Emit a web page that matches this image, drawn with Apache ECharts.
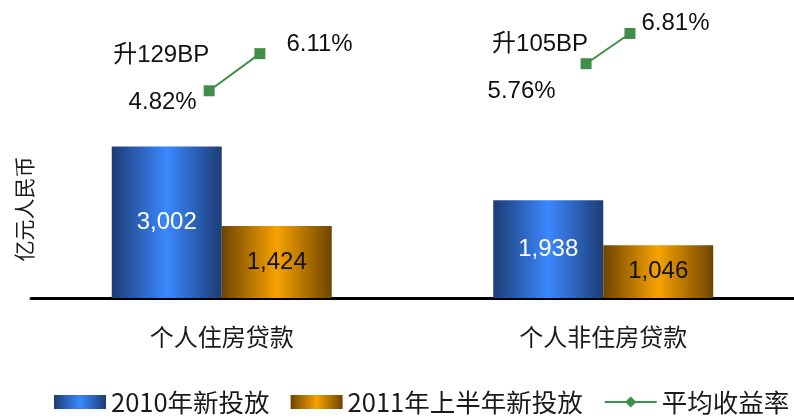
<!DOCTYPE html>
<html>
<head>
<meta charset="utf-8">
<script src="https://cdn.jsdelivr.net/npm/echarts@6/dist/echarts.min.js"></script>
<style>
  html, body { margin: 0; padding: 0; background: #fff; }
  #chart { width: 794px; height: 418px; }
</style>
</head>
<body>
<div id="chart"></div>
<script>
// 数据
const categories = ['个人住房贷款', '个人非住房贷款'];
const loans2010 = [3002, 1938];
const loans2011H1 = [1424, 1046];
const rate2010 = [4.82, 5.76];
const rate2011H1 = [6.11, 6.81];
// 收益率点在横向上的位置（按类目宽度计）
const ratePosX = [[0.467, 0.600], [1.455, 1.570]];

// 标签微调（布局用）
const labelNudge = [
  [[-2, 12], [16, -9]],
  [[-20, 28], [1, -10]]
];
const bpNudge = [[-48, -35], [-46, -19]];

const font = '"Liberation Sans", Arial, "Noto Sans CJK SC", sans-serif';
const cjkFont = '"Noto Sans CJK SC", "Liberation Sans", sans-serif';

function barGradient(edge, mid) {
  return new echarts.graphic.LinearGradient(0, 0, 1, 0, [
    { offset: 0, color: edge },
    { offset: 0.5, color: mid },
    { offset: 1, color: edge }
  ]);
}

const chart = echarts.init(document.getElementById('chart'));

const lineSeries = categories.map((c, i) => ({
  name: '平均收益率',
  type: 'line',
  xAxisIndex: 1,
  yAxisIndex: 1,
  symbol: 'diamond',
  symbolSize: 12,
  clip: false,
  lineStyle: { color: '#3f8f4a', width: 2 },
  itemStyle: { color: '#3f8f4a' },
  data: [
    {
      value: [ratePosX[i][0], rate2010[i]],
      symbol: 'rect',
      symbolSize: 11,
      label: { position: 'left', offset: labelNudge[i][0] }
    },
    {
      value: [ratePosX[i][1], rate2011H1[i]],
      symbol: 'rect',
      symbolSize: 11,
      label: { position: 'right', offset: labelNudge[i][1] }
    }
  ],
  label: {
    show: true,
    fontFamily: font,
    fontSize: 24,
    color: '#111',
    formatter: p => p.value[1].toFixed(2) + '%'
  },
  markPoint: {
    symbol: 'rect',
    symbolSize: 0,
    label: {
      show: true,
      fontFamily: font,
      fontSize: 24,
      color: '#111',
      offset: bpNudge[i],
      formatter: '升' + Math.round((rate2011H1[i] - rate2010[i]) * 100) + 'BP'
    },
    data: [{ coord: [ratePosX[i][0], rate2010[i]] }]
  }
}));

const option = {
  animation: false,
  backgroundColor: '#fff',
  legend: {
    left: 54,
    top: 383,
    padding: 0,
    itemWidth: 52,
    itemHeight: 14,
    itemGap: 21,
    textStyle: {
      fontFamily: cjkFont,
      fontSize: 25.5,
      lineHeight: 24,
      color: '#1a1a1a',
      padding: [14, 0, 0, 0]
    },
    data: [
      { name: '2010年新投放', icon: 'rect' },
      { name: '2011年上半年新投放', icon: 'rect' },
      { name: '平均收益率' }
    ]
  },
  grid: [
    { left: 31, right: 0, top: 96, bottom: 120 },
    { left: 31, right: 0, top: 30, height: 70 }
  ],
  xAxis: [
    {
      type: 'category',
      data: categories,
      axisLine: { lineStyle: { color: '#000', width: 3 } },
      axisTick: { show: false },
      axisLabel: {
        fontFamily: cjkFont,
        fontSize: 24,
        color: '#1a1a1a',
        margin: 27
      }
    },
    { type: 'value', gridIndex: 1, min: 0, max: 2, show: false }
  ],
  yAxis: [
    {
      type: 'value',
      min: 0,
      max: 4000,
      axisLine: { show: false },
      axisTick: { show: false },
      axisLabel: { show: false },
      splitLine: { show: false },
      name: '亿元人民币',
      nameLocation: 'middle',
      nameRotate: 90,
      nameGap: -4,
      nameTextStyle: {
        fontFamily: cjkFont,
        fontSize: 21,
        color: '#1a1a1a',
        padding: [0, 24, 0, 0]
      }
    },
    { type: 'value', gridIndex: 1, min: 4.5, max: 6.93, show: false }
  ],
  series: [
    {
      name: '2010年新投放',
      type: 'bar',
      barWidth: 110,
      barGap: '0%',
      data: loans2010,
      itemStyle: { color: barGradient('#1d3c74', '#3b88ff') },
      label: {
        show: true,
        position: 'inside',
        fontFamily: font,
        fontSize: 24,
        color: '#fff',
        formatter: p => p.value.toLocaleString('en-US')
      }
    },
    {
      name: '2011年上半年新投放',
      type: 'bar',
      barWidth: 110,
      barGap: '0%',
      data: loans2011H1,
      itemStyle: { color: barGradient('#6e4500', '#f7a200') },
      label: {
        show: true,
        position: 'inside',
        fontFamily: font,
        fontSize: 24,
        color: '#111',
        formatter: p => p.value.toLocaleString('en-US')
      }
    },
    ...lineSeries
  ]
};

chart.setOption(option);
</script>
</body>
</html>
